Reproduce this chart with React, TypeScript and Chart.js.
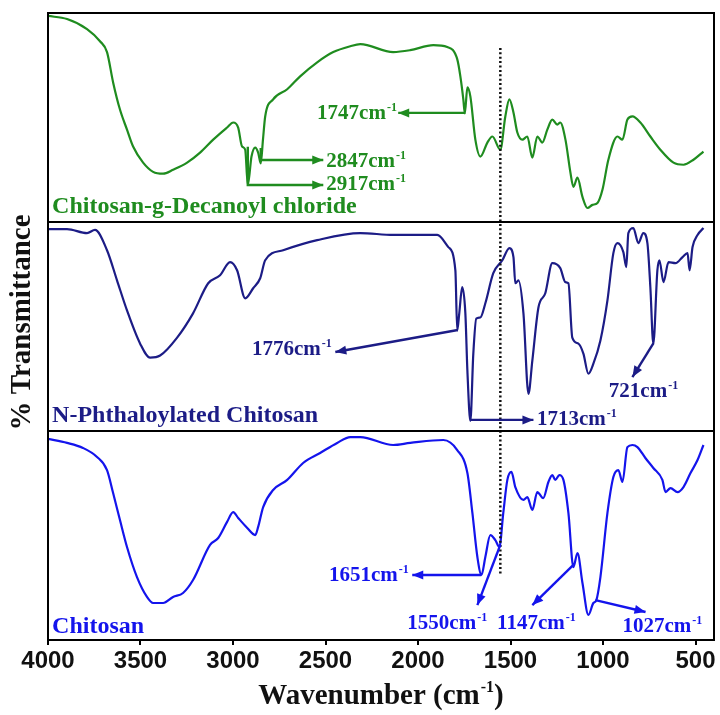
import React, { useEffect, useRef } from "react";
import { Chart, registerables } from "chart.js";

Chart.register(...registerables);

// ---------- axis ----------
const X_TICKS = [4000, 3500, 3000, 2500, 2000, 1500, 1000, 500];
const X_MIN = 400;
const X_MAX = 4000;

// ---------- spectra (wavenumber, cm-1) / (relative %T within each panel, 0-100) ----------
const decanoylWavenumber = [
  4000, 3897, 3789, 3719, 3681, 3648, 3611, 3573, 3540, 3486, 3432, 3378, 3324, 3248, 3178, 3107,
  3032, 2999, 2972, 2951, 2934, 2920, 2900, 2880, 2864, 2850, 2838, 2826, 2783, 2707, 2637, 2545,
  2458, 2366, 2312, 2134, 2042, 1917, 1842, 1788, 1771, 1755, 1747, 1733, 1717, 1690, 1663, 1625,
  1598, 1555, 1528, 1506, 1484, 1463, 1436, 1409, 1382, 1355, 1328, 1301, 1274, 1247, 1231, 1203,
  1176, 1160, 1138, 1111, 1084, 1057, 1030, 1003, 971, 922, 895, 868, 841, 798, 744, 690, 619, 565,
  511, 457,
];
const decanoylT = [
  98.6, 97.1, 92.3, 86.5, 81.3, 66.8, 53.8, 44.2, 36.1, 28.4, 24.0, 23.1, 25.0, 28.4, 33.2, 39.4,
  45.2, 47.6, 45.2, 36.1, 34.6, 17.7, 31.3, 35.6, 33.2, 28.0, 39.4, 50.5, 58.7, 63.5, 69.7, 76.4,
  81.3, 84.1, 85.1, 81.3, 82.2, 84.6, 83.7, 77.9, 69.7, 58.7, 52.0, 64.4, 60.1, 39.4, 31.3, 38.0,
  40.9, 34.6, 50.5, 58.7, 52.4, 42.8, 39.4, 40.9, 30.8, 40.9, 38.0, 44.2, 49.0, 46.6, 47.6, 39.4,
  23.6, 16.8, 21.2, 12.0, 6.7, 8.2, 9.1, 15.4, 29.8, 40.9, 39.4, 49.0, 50.5, 47.6, 40.9, 34.6, 28.4, 27.4,
  29.8, 33.7,
];

const phthaloylWavenumber = [
  4000, 3897, 3789, 3746, 3681, 3627, 3573, 3502, 3448, 3394, 3302, 3216, 3134, 3070, 3016, 2978,
  2934, 2891, 2853, 2826, 2729, 2545, 2312, 2134, 1896, 1836, 1798, 1788, 1777, 1761, 1744, 1733,
  1717, 1701, 1685, 1663, 1636, 1593, 1544, 1506, 1484, 1474, 1457, 1430, 1403, 1382, 1349, 1312,
  1274, 1231, 1203, 1187, 1166, 1133, 1106, 1079, 1052, 1014, 976, 944, 922, 890, 874, 863, 836,
  809, 782, 760, 744, 728, 706, 695, 673, 646, 608, 570, 543, 532, 516, 489, 457,
];
const phthaloylT = [
  96.6, 96.6, 94.7, 96.2, 86.5, 72.1, 57.7, 41.8, 35.1, 36.1, 44.7, 56.3, 70.7, 74.5, 80.8, 76.9,
  63.5, 68.3, 73.1, 81.7, 86.5, 91.3, 94.7, 93.8, 93.8, 88.0, 76.9, 48.1, 56.3, 68.8, 56.3, 28.8,
  4.8, 37.0, 53.8, 54.3, 61.1, 75.5, 81.7, 87.5, 83.2, 70.7, 72.1, 56.3, 17.8, 33.7, 59.1, 65.9,
  80.3, 77.9, 71.2, 70.7, 44.7, 41.8, 37.0, 27.4, 32.2, 43.3, 62.5, 85.1, 89.9, 85.6, 78.4, 94.7, 97.1,
  89.9, 94.7, 89.9, 68.8, 41.8, 76.9, 81.7, 71.2, 80.8, 80.3, 83.2, 85.1, 76.9, 88.0, 93.8, 97.1,
];

const chitosanWavenumber = [
  4000, 3897, 3811, 3735, 3681, 3648, 3611, 3573, 3519, 3465, 3432, 3378, 3324, 3270, 3216, 3124,
  3080, 3032, 2999, 2972, 2923, 2880, 2864, 2837, 2783, 2707, 2621, 2529, 2437, 2366, 2312, 2134,
  2042, 1863, 1788, 1733, 1706, 1679, 1657, 1636, 1609, 1582, 1560, 1539, 1517, 1495, 1474, 1430,
  1409, 1382, 1355, 1323, 1295, 1274, 1258, 1236, 1214, 1187, 1160, 1138, 1111, 1079, 1052, 1036,
  1014, 976, 944, 917, 895, 868, 841, 814, 771, 728, 679, 662, 635, 597, 565, 527, 489, 457,
];
const chitosanT = [
  96.2, 94.3, 91.9, 87.6, 81.3, 70.3, 57.4, 44.5, 30.1, 20.6, 17.7, 17.7, 20.6, 22.5, 28.7, 45.5,
  48.8, 56.5, 61.2, 58.4, 53.6, 50.2, 54.1, 63.6, 71.8, 76.6, 84.7, 89.5, 94.3, 97.1, 97.1, 93.3,
  94.3, 95.7, 90.9, 79.9, 60.8, 39.7, 31.1, 39.7, 50.2, 47.8, 44.5, 60.8, 76.6, 80.4, 73.2, 67.0,
  68.4, 62.2, 70.8, 67.9, 75.6, 78.9, 76.6, 78.9, 76.6, 60.8, 34.9, 41.6, 27.3, 12.0, 17.7, 19.1,
  30.1, 60.8, 78.0, 81.3, 75.6, 92.3, 93.3, 92.3, 87.1, 82.3, 76.6, 70.8, 72.7, 70.8, 73.2, 79.9, 86.1, 93.3,
];

// ---------- series metadata ----------
const SERIES_LABELS = ["Chitosan-g-Decanoyl chloride", "N-Phthaloylated Chitosan", "Chitosan"];
const SERIES_COLORS = ["#1f8c1f", "#1c1c86", "#1414ec"];
const PANEL_OFFSETS = [200, 100, 0]; // top, middle, bottom panel
const PANEL_SPAN = 100;
// label anchor: [wavenumber, relative value of baseline]
const LABEL_ANCHORS: [number, number][] = [[3978, 4.3], [3978, 4.3], [3978, 3.3]];

// dotted reference line (wavenumber, top panel value, bottom panel value)
const DOTTED_WN = 1555;
const DOTTED_TOP_VALUE = 83.3;
const DOTTED_BOTTOM_VALUE = 31.1;

// ---------- peak annotations ----------
type PeakNote = {
  panel: number;
  peak: string;
  path: [number, number][];
  text: [number, number];
  align: "left" | "right" | "center";
};
const PEAK_NOTES: PeakNote[] = [
  { panel: 0, peak: "1747", path: [[1744, 52.2], [2107, 52.2]], text: [2114, 52.6], align: "right" },
  { panel: 0, peak: "2847", path: [[2850, 35.4], [2850, 29.7], [2512, 29.7]], text: [2496, 29.7], align: "left" },
  { panel: 0, peak: "2917", path: [[2920, 36.0], [2920, 17.7], [2512, 17.7]], text: [2496, 18.5], align: "left" },
  { panel: 1, peak: "1776", path: [[1785, 48.3], [2447, 37.8]], text: [2466, 39.7], align: "right" },
  { panel: 1, peak: "1713", path: [[1717, 5.3], [1376, 5.3]], text: [1357, 6.3], align: "left" },
  { panel: 1, peak: "721", path: [[727, 42.1], [841, 25.8]], text: [781, 19.6], align: "center" },
  { panel: 2, peak: "1651", path: [[1658, 31.1], [2031, 31.1]], text: [2050, 31.6], align: "right" },
  { panel: 2, peak: "1550", path: [[1555, 45.5], [1679, 16.7]], text: [1842, 8.6], align: "center" },
  { panel: 2, peak: "1147", path: [[1160, 35.9], [1382, 16.7]], text: [1360, 8.6], align: "center" },
  { panel: 2, peak: "1027", path: [[1041, 19.1], [770, 13.4]], text: [679, 7.2], align: "center" },
];

const SERIF = "'Liberation Serif', 'Times New Roman', Times, serif";
const SANS = "'Liberation Sans', Arial, Helvetica, sans-serif";

function drawPieces(
  ctx: CanvasRenderingContext2D,
  pieces: [string, boolean][],
  x: number,
  baseline: number,
  align: "left" | "right" | "center",
  size: number,
  supSize: number,
  supRise: number
) {
  const widths = pieces.map(([t, sup]) => {
    ctx.font = `bold ${sup ? supSize : size}px ${SERIF}`;
    return ctx.measureText(t).width + (sup ? 1 : 0);
  });
  const total = widths.reduce((a, b) => a + b, 0);
  let sx = align === "left" ? x : align === "right" ? x - total : x - total / 2;
  ctx.textAlign = "left";
  ctx.textBaseline = "alphabetic";
  pieces.forEach(([t, sup], i) => {
    ctx.font = `bold ${sup ? supSize : size}px ${SERIF}`;
    ctx.fillText(t, sx + (sup ? 1 : 0), sup ? baseline - supRise : baseline);
    sx += widths[i];
  });
}

function arrowHead(ctx: CanvasRenderingContext2D, fx: number, fy: number, tx: number, ty: number) {
  const len = 11;
  const half = 4.5;
  const a = Math.atan2(ty - fy, tx - fx);
  const bx = tx - len * Math.cos(a);
  const by = ty - len * Math.sin(a);
  ctx.beginPath();
  ctx.moveTo(tx, ty);
  ctx.lineTo(bx + half * Math.sin(a), by - half * Math.cos(a));
  ctx.lineTo(bx - half * Math.sin(a), by + half * Math.cos(a));
  ctx.closePath();
  ctx.fill();
}

const overlayPlugin = {
  id: "ftirOverlay",
  afterDatasetsDraw(chart: any) {
    const { ctx, chartArea: area, scales } = chart;
    const xs = scales.x;
    const ys = scales.y;
    const px = (wn: number) => xs.getPixelForValue(wn);
    const py = (panel: number, v: number) => ys.getPixelForValue(PANEL_OFFSETS[panel] + v);
    ctx.save();

    // dotted reference line
    ctx.strokeStyle = "#111";
    ctx.lineWidth = 2.5;
    ctx.setLineDash([2, 2.4]);
    ctx.beginPath();
    ctx.moveTo(px(DOTTED_WN), py(0, DOTTED_TOP_VALUE));
    ctx.lineTo(px(DOTTED_WN), py(2, DOTTED_BOTTOM_VALUE));
    ctx.stroke();
    ctx.setLineDash([]);

    // frame and separators
    ctx.strokeStyle = "#000";
    ctx.lineWidth = 2;
    ctx.strokeRect(area.left, area.top, area.right - area.left, area.bottom - area.top);
    [PANEL_SPAN, PANEL_SPAN * 2].forEach((v) => {
      const yy = ys.getPixelForValue(v);
      ctx.beginPath();
      ctx.moveTo(area.left, yy);
      ctx.lineTo(area.right, yy);
      ctx.stroke();
    });

    // panel labels
    SERIES_LABELS.forEach((label, i) => {
      ctx.fillStyle = SERIES_COLORS[i];
      ctx.font = `bold 24px ${SERIF}`;
      ctx.textAlign = "left";
      ctx.textBaseline = "alphabetic";
      ctx.fillText(label, px(LABEL_ANCHORS[i][0]), py(i, LABEL_ANCHORS[i][1]));
    });

    // peak annotations
    PEAK_NOTES.forEach((n) => {
      const color = SERIES_COLORS[n.panel];
      ctx.strokeStyle = color;
      ctx.fillStyle = color;
      ctx.lineWidth = 2.4;
      const pts = n.path.map(([w, v]) => [px(w), py(n.panel, v)]);
      ctx.beginPath();
      pts.forEach(([x, y], i) => (i === 0 ? ctx.moveTo(x, y) : ctx.lineTo(x, y)));
      ctx.stroke();
      const [fx, fy] = pts[pts.length - 2];
      const [tx, ty] = pts[pts.length - 1];
      arrowHead(ctx, fx, fy, tx, ty);
      const cx = px(n.text[0]);
      const cy = py(n.panel, n.text[1]);
      drawPieces(ctx, [[n.peak + "cm", false], ["-1", true]], cx, cy + 7, n.align, 21, 12, 8);
    });
    ctx.restore();
  },
  afterDraw(chart: any) {
    const { ctx, chartArea: area } = chart;
    ctx.save();
    ctx.fillStyle = "#111";
    // x title
    drawPieces(
      ctx,
      [["Wavenumber (cm", false], ["-1", true], [")", false]],
      (area.left + area.right) / 2,
      704,
      "center",
      29,
      16,
      12
    );
    // y title
    ctx.translate(23, (area.top + area.bottom) / 2 - 4);
    ctx.rotate(-Math.PI / 2);
    ctx.font = `bold 29px ${SERIF}`;
    ctx.textAlign = "center";
    ctx.textBaseline = "middle";
    ctx.fillText("% Transmittance", 0, 0);
    ctx.restore();
  },
};

export default function App() {
  const canvasRef = useRef<HTMLCanvasElement | null>(null);

  useEffect(() => {
    const canvas = canvasRef.current;
    if (!canvas) return;
    const spectra = [
      [decanoylWavenumber, decanoylT],
      [phthaloylWavenumber, phthaloylT],
      [chitosanWavenumber, chitosanT],
    ];
    const chart = new Chart(canvas, {
      type: "line",
      data: {
        datasets: spectra.map(([wn, t], i) => ({
          label: SERIES_LABELS[i],
          data: wn.map((w, k) => ({ x: w, y: PANEL_OFFSETS[i] + t[k] })),
          borderColor: SERIES_COLORS[i],
          backgroundColor: SERIES_COLORS[i],
          borderWidth: 2.2,
          pointRadius: 0,
          cubicInterpolationMode: "monotone" as const,
          fill: false,
        })),
      },
      options: {
        responsive: false,
        animation: false,
        devicePixelRatio: 1,
        layout: { padding: { left: 48, right: 6, top: 13, bottom: 0 } },
        plugins: { legend: { display: false }, tooltip: { enabled: false } },
        scales: {
          x: {
            type: "linear",
            reverse: true,
            min: X_MIN,
            max: X_MAX,
            afterBuildTicks: (s: any) => {
              s.ticks = X_TICKS.map((v) => ({ value: v }));
            },
            afterFit: (s: any) => {
              s.height = 75;
              s.paddingLeft = 0;
              s.paddingRight = 0;
            },
            grid: {
              display: true,
              drawOnChartArea: false,
              drawTicks: true,
              tickLength: 5,
              color: "#000",
              lineWidth: 2,
            },
            border: { display: false },
            ticks: {
              autoSkip: false,
              maxRotation: 0,
              padding: 2,
              color: "#111",
              font: { family: SANS, size: 24, weight: "bold" },
              callback: (v: any) => String(v),
            },
          },
          y: { type: "linear", min: 0, max: 300, display: false },
        },
      },
      plugins: [overlayPlugin],
    } as any);
    return () => chart.destroy();
  }, []);

  return (
    <div style={{ position: "absolute", left: 0, top: 0, width: 720, height: 715, background: "#fff" }}>
      <canvas ref={canvasRef} width={720} height={715} style={{ display: "block" }} />
    </div>
  );
}
